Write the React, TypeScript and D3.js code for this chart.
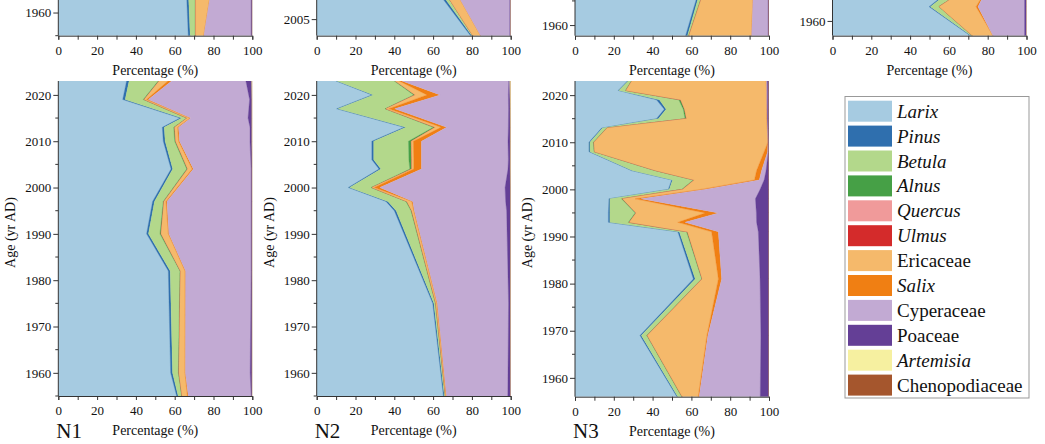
import React, { useEffect, useRef } from 'react';
import * as d3 from 'd3';

// taxa in stacking order (left to right)
const taxa = ['Larix', 'Pinus', 'Betula', 'Alnus', 'Quercus', 'Ulmus', 'Ericaceae', 'Salix', 'Cyperaceae', 'Poaceae', 'Artemisia', 'Chenopodiaceae'];
const italicTaxa = ['Larix', 'Pinus', 'Betula', 'Alnus', 'Quercus', 'Ulmus', 'Salix', 'Artemisia'];
const taxonColors = ['#a6cbe1', '#2f6fae', '#b3d88b', '#46a046', '#f09a9a', '#d42b2b', '#f5b96b', '#f07f13', '#c2aad3', '#643f96', '#f6f0a0', '#a5562d'];

// rows: [year, Larix, Pinus, Betula, Alnus, Quercus, Ulmus, Ericaceae, Salix, Cyperaceae, Poaceae, Artemisia, Chenopodiaceae]
const topARows = [
  [1955, 67, 1, 2.5, 0.3, 0, 0, 4.2, 0, 24.4, 0.6, 0, 0],
  [1965, 66, 1, 3.5, 0.3, 0, 0, 8, 0, 20.6, 0.6, 0, 0],
];
const topBRows = [
  [2004, 79.3, 0.7, 0.5, 0, 0, 0, 4, 0, 15, 0.5, 0, 0],
  [2007, 60, 1.5, 2.5, 0, 0, 0, 6, 0, 29.5, 0.5, 0, 0],
];
const topCRows = [
  [1957.8, 57, 1, 0.6, 0.2, 0, 0, 32.2, 0, 8.5, 0.5, 0, 0],
  [1966, 63, 0.8, 1.6, 0.2, 0, 0, 26.2, 0, 7.7, 0.5, 0, 0],
];
const topDRows = [
  [1956.9, 71, 0.5, 0.5, 0.2, 0, 0, 10.5, 0, 16.3, 1, 0, 0],
  [1963, 49.8, 0.7, 4.3, 0.2, 0, 0, 19, 1, 24, 1, 0, 0],
  [1965, 56, 0.8, 5.5, 0.2, 0, 0, 14.5, 0.5, 21.5, 1, 0, 0],
];

const n1Rows = [
  [2023, 35.2, 1.3, 15, 0.5, 0, 0, 4.5, 1.9, 38.3, 3, 0.3, 0],
  [2019, 33.2, 1.3, 9.3, 0.5, 0, 0, 1.2, 0.9, 52.2, 1.2, 0.2, 0],
  [2015, 62.7, 1, 2.5, 0.3, 0, 0, 1.4, 0.4, 29.5, 2, 0.2, 0],
  [2013, 53.6, 1, 4.9, 0.5, 0, 0, 1.5, 0.5, 36.8, 1, 0.2, 0],
  [2010, 54.1, 1, 4.9, 0.5, 0, 0, 1.5, 0.5, 36.3, 1, 0.2, 0],
  [2004, 58.1, 0.9, 7.2, 0.5, 0, 0, 2.3, 0.6, 29.8, 0.5, 0.1, 0],
  [1997, 48.6, 1, 4.5, 0.4, 0, 0, 1, 0.5, 43.4, 0.5, 0.1, 0],
  [1990, 45.5, 1, 5.9, 0.6, 0, 0, 3.7, 0.3, 42.4, 0.5, 0.1, 0],
  [1982, 56.7, 1, 5, 0.3, 0, 0, 2.3, 0.3, 33.8, 0.5, 0.1, 0],
  [1960, 57.9, 1, 3, 0.3, 0, 0, 3.1, 0.2, 33.4, 1, 0.1, 0],
  [1955, 61, 0.8, 1.8, 0.2, 0, 0, 2.7, 0.5, 32.4, 0.5, 0.1, 0],
];
const n2Rows = [
  [2023, 10, 0.5, 29.5, 0.5, 0, 0, 2, 1.5, 55, 0.5, 0.5, 0],
  [2020, 28.4, 0.8, 20.8, 0.8, 0, 0, 6, 6.8, 35.2, 0.8, 0.4, 0],
  [2017, 10.3, 0.7, 24.2, 0.5, 0, 0, 1.5, 3, 58.7, 0.8, 0.3, 0],
  [2013, 45, 1, 14.1, 1, 0, 0, 3, 2.9, 31.8, 1, 0.2, 0],
  [2010, 28.4, 1, 17.9, 1.5, 0, 0, 1, 4.2, 44.6, 1.2, 0.2, 0],
  [2006, 28.4, 1, 18.1, 1.5, 0, 0, 1, 4, 44.8, 1, 0.2, 0],
  [2004, 32.1, 1, 14.9, 1, 0, 0, 1, 4, 44.6, 1.2, 0.2, 0],
  [2000, 16.3, 0.7, 11, 0.5, 0, 0, 1.2, 2.8, 64.6, 2.8, 0.1, 0],
  [1997, 35.7, 1, 9.3, 0.5, 0, 0, 2.5, 0.5, 47.9, 2.5, 0.1, 0],
  [1995, 40, 1, 7.6, 0.4, 0, 0, 1, 0.3, 47.6, 2, 0.1, 0],
  [1975, 59.8, 0.6, 0.8, 0.2, 0, 0, 0.6, 0.2, 36.7, 1, 0.1, 0],
  [1955, 65.3, 0.5, 0.5, 0.1, 0, 0, 0.4, 0.1, 31.6, 1.5, 0, 0],
];
const n3Rows = [
  [2023, 27, 0.4, 1.6, 0.3, 0, 0, 69.2, 0.2, 0.4, 0.9, 0, 0],
  [2021, 22.3, 0.3, 3.4, 0.3, 0, 0, 72.4, 0.1, 0.4, 0.8, 0, 0],
  [2019, 42, 1.5, 10, 1, 0, 0, 44.2, 0.1, 0.4, 0.8, 0, 0],
  [2017, 46, 1, 8.8, 0.7, 0, 0, 42.3, 0.1, 0.3, 0.8, 0, 0],
  [2015, 42, 1, 13.7, 0.8, 0, 0, 41.4, 0.1, 0.2, 0.8, 0, 0],
  [2013, 13.7, 0.5, 2.1, 0.3, 0, 0, 82.5, 0.1, 0.2, 0.6, 0, 0],
  [2010, 7.2, 0.5, 1.8, 0.3, 0, 0, 89.6, 0.1, 0.1, 0.4, 0, 0],
  [2008, 7.2, 0.5, 2.1, 0.3, 0, 0, 87.4, 1.8, 0.3, 0.4, 0, 0],
  [2004, 29, 0.5, 11.5, 0.5, 0, 0, 52.1, 2.6, 2.3, 1.5, 0, 0],
  [2002, 49.8, 0.5, 10.7, 0.5, 0, 0, 31, 2.5, 2.5, 2.5, 0, 0],
  [2000, 48.1, 0.5, 6.4, 0.5, 0, 0, 9.5, 2, 28.4, 4.6, 0, 0],
  [1998, 17.5, 0.5, 6, 0.5, 0, 0, 6.5, 3, 59, 7, 0, 0],
  [1995, 17.2, 0.8, 13, 0.5, 0, 0, 35.5, 7, 19.5, 6.5, 0, 0],
  [1993, 17.2, 0.8, 9.5, 0.5, 0, 0, 25, 3.7, 36.9, 6.4, 0, 0],
  [1991, 53, 0.8, 3.7, 0.5, 0, 0, 12.4, 3.5, 20.6, 5.5, 0, 0],
  [1981, 61, 1, 3.3, 0.3, 0, 0, 8.3, 1.7, 19.8, 4.6, 0, 0],
  [1969, 33.5, 0.7, 2.8, 0.3, 0, 0, 30.7, 0.5, 27.3, 4.2, 0, 0],
  [1956, 52.5, 0.5, 2, 0.3, 0, 0, 8.2, 0.5, 31.5, 4.5, 0, 0],
];

const percentTicks = [0, 20, 40, 60, 80, 100];

const FONT = '"Liberation Serif", "Times New Roman", serif';

interface Panel {
  rows: number[][];
  domain: [number, number];
  step: number;
  left: number;
  top: number;
  bottom: number;
  label?: string;
}

// top row is cut off by the page edge, only its lower part shows
const panels: Panel[] = [
  { rows: topARows, domain: [1955, 2023], step: 10, left: 58.3, top: -279.3, bottom: 35.7 },
  { rows: topBRows, domain: [2004, 2023], step: 5, left: 316.7, top: -279.3, bottom: 35.7 },
  { rows: topCRows, domain: [1957.8, 2023], step: 10, left: 575, top: -279.3, bottom: 35.7 },
  { rows: topDRows, domain: [1956.9, 2023], step: 10, left: 832.5, top: -279.3, bottom: 35.7 },
  { rows: n1Rows, domain: [1955, 2023], step: 10, left: 58.3, top: 81, bottom: 396, label: 'N1' },
  { rows: n2Rows, domain: [1955, 2023], step: 10, left: 316.7, top: 81, bottom: 396, label: 'N2' },
  { rows: n3Rows, domain: [1956, 2023], step: 10, left: 575, top: 81, bottom: 396.7, label: 'N3' },
];

const App: React.FC = () => {
  const svgRef = useRef<SVGSVGElement>(null);

  useEffect(() => {
    const svg = d3.select(svgRef.current);
    svg.selectAll('*').remove();

    const color = d3.scaleOrdinal<string, string>().domain(taxa).range(taxonColors);

    panels.forEach((p, i) => {
      const width = 194;
      const x = d3.scaleLinear().domain([0, 100]).range([p.left, p.left + width]);
      const y = d3.scaleLinear().domain(p.domain).range([p.bottom, p.top]);

      const records = p.rows.map(r => {
        const o: Record<string, number> = { year: r[0] };
        taxa.forEach((t, k) => { o[t] = r[k + 1]; });
        return o;
      });

      const series = d3.stack<Record<string, number>>().keys(taxa)(records);

      svg.append('clipPath')
        .attr('id', `clip${i}`)
        .append('rect')
        .attr('x', p.left)
        .attr('y', p.top)
        .attr('width', width)
        .attr('height', p.bottom - p.top);

      const area = d3.area<d3.SeriesPoint<Record<string, number>>>()
        .y(d => y(d.data.year))
        .x0(d => x(d[0]))
        .x1(d => x(d[1]));

      const g = svg.append('g').attr('clip-path', `url(#clip${i})`);
      g.selectAll('path')
        .data(series)
        .enter().append('path')
        .attr('fill', d => color(d.key))
        .attr('stroke', d => color(d.key))
        .attr('stroke-width', 0.3)
        .attr('d', area);

      // X axis
      const xAxis = svg.append('g')
        .attr('transform', `translate(0,${p.bottom})`)
        .call(d3.axisBottom(x).tickValues(d3.range(0, 101, 10)).tickSize(4).tickFormat(d => (percentTicks.includes(+d) ? String(d) : '')));
      xAxis.attr('font-family', FONT);
      xAxis.selectAll('text')
        .attr('font-family', FONT)
        .attr('font-size', 13)
        .attr('fill', '#111')
        .attr('dy', '0.95em');

      // Y axis (labels only where they land on the page)
      const majors = d3.range(Math.ceil(p.domain[0] / p.step) * p.step, p.domain[1] + 0.01, p.step)
        .filter(v => y(v) > 6);
      const minors = d3.range(Math.ceil(p.domain[0] / (p.step / 2)) * (p.step / 2), p.domain[1] + 0.01, p.step / 2)
        .filter(v => !majors.includes(v) && y(v) > 0);
      const yAxis = svg.append('g')
        .attr('transform', `translate(${p.left},0)`)
        .call(d3.axisLeft(y).tickValues(majors).tickSize(5).tickFormat(d3.format('d')));
      yAxis.attr('font-family', FONT);
      yAxis.select('.domain')
        .attr('d', `M0,${Math.max(p.top, 0)}V${p.bottom}`);
      yAxis.selectAll('text')
        .attr('font-family', FONT)
        .attr('font-size', 13)
        .attr('fill', '#111')
        .attr('x', -7);
      svg.append('g')
        .selectAll('line')
        .data(minors)
        .enter().append('line')
        .attr('x1', p.left - 3)
        .attr('x2', p.left)
        .attr('y1', d => y(d))
        .attr('y2', d => y(d))
        .attr('stroke', '#333');

      svg.selectAll('.domain, .tick line').attr('stroke', '#333');

      // axis titles
      svg.append('text')
        .attr('x', p.left + width / 2)
        .attr('y', p.bottom + 39)
        .attr('text-anchor', 'middle')
        .attr('font-family', FONT)
        .attr('font-size', 14)
        .attr('fill', '#111')
        .text('Percentage (%)');

      if (p.label) {
        svg.append('text')
          .attr('transform', 'rotate(-90)')
          .attr('x', -((p.top + p.bottom) / 2 - 6))
          .attr('y', p.left - 43)
          .attr('text-anchor', 'middle')
          .attr('font-family', FONT)
          .attr('font-size', 14)
          .attr('fill', '#111')
          .text('Age (yr AD)');

        svg.append('text')
          .attr('x', p.left - 2)
          .attr('y', 438)
          .attr('font-family', FONT)
          .attr('font-size', 21)
          .attr('fill', '#111')
          .text(p.label);
      }
    });

    // Legend
    const legend = svg.append('g');
    legend.append('rect')
      .attr('x', 845)
      .attr('y', 96.5)
      .attr('width', 184)
      .attr('height', 301.5)
      .attr('fill', 'white')
      .attr('stroke', '#999')
      .attr('stroke-width', 1);

    const item = legend.selectAll('.item')
      .data(taxa)
      .enter().append('g')
      .attr('class', 'item')
      .attr('transform', (_d, k) => `translate(848,${100.7 + k * 24.9})`);

    item.append('rect')
      .attr('width', 44)
      .attr('height', 21)
      .attr('fill', d => color(d));

    item.append('text')
      .attr('x', 49)
      .attr('y', 17)
      .attr('font-family', FONT)
      .attr('font-size', 19)
      .attr('font-style', d => (italicTaxa.includes(d) ? 'italic' : 'normal'))
      .attr('fill', '#111')
      .text(d => d);
  }, []);

  return (
    <div style={{ position: 'absolute', left: 0, top: 0, width: 1045, height: 444, background: 'white' }}>
      <svg ref={svgRef} width={1045} height={444}></svg>
    </div>
  );
};

export default App;
